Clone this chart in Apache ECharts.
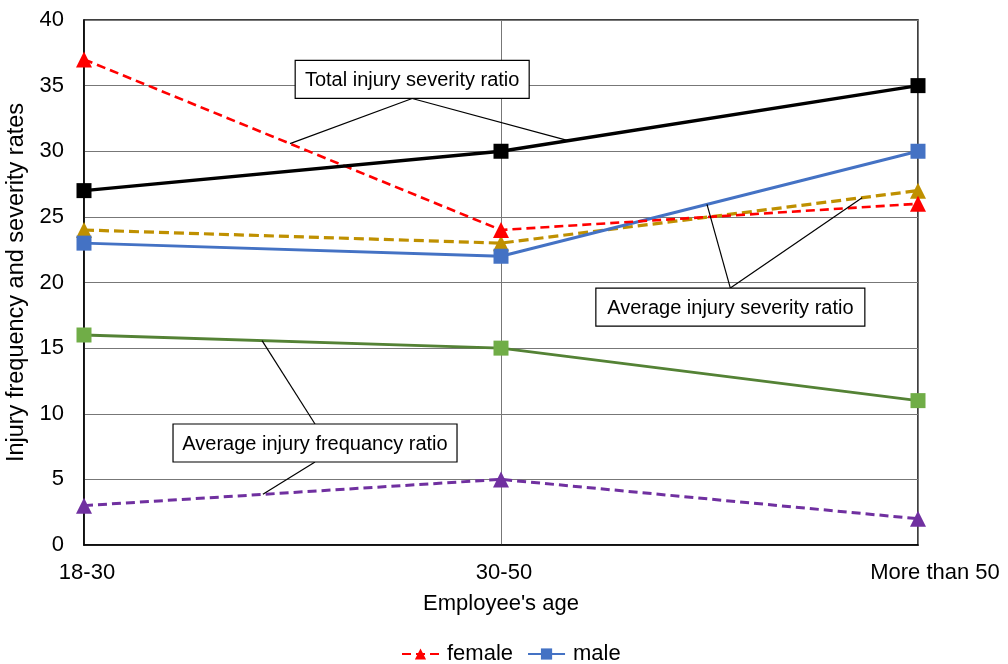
<!DOCTYPE html>
<html>
<head>
<meta charset="utf-8">
<script src="https://cdn.jsdelivr.net/npm/echarts@6/dist/echarts.min.js"></script>
<style>
  html, body { margin: 0; padding: 0; background: #fff; }
  #chart { width: 1008px; height: 664px; }
</style>
</head>
<body>
<div id="chart"></div>
<script>
// Age groups on the x axis
const ageGroups = ['18-30', '30-50', 'More than 50'];

// Severity ratios
const femaleSeverity = [37, 24, 26];
const maleSeverity = [23, 22, 30];
const totalSeverity = [27, 30, 35];
const avgSeverity = [24, 23, 27];

// Frequency ratios
const avgFrequencyA = [16, 15, 11];
const avgFrequencyB = [3, 5, 2];

const yTicks = { min: 0, max: 40, step: 5 };

const FONT = '"Liberation Sans", Arial, sans-serif';

const chart = echarts.init(document.getElementById('chart'));

function lineSeries(name, data, color, dash, symbol, markerColor, width) {
  return {
    name: name,
    type: 'line',
    data: data,
    symbol: symbol,
    symbolSize: symbol === 'triangle' ? 16 : 15,
    showSymbol: true,
    lineStyle: { color: color, width: width, type: dash || 'solid' },
    itemStyle: { color: markerColor || color, borderWidth: 0 },
    emphasis: { disabled: true },
    animation: false
  };
}

const option = {
  animation: false,
  grid: {
    left: 84, right: 90, top: 20, bottom: 119,
    containLabel: false, outerBoundsMode: 'none',
    show: true, borderColor: '#000', borderWidth: 1.5, backgroundColor: 'transparent'
  },
  legend: {
    data: ['female', 'male'],
    top: 638,
    left: 396,
    itemWidth: 37,
    itemHeight: 14,
    itemGap: 14,
    textStyle: { fontFamily: FONT, fontSize: 22, color: '#000', padding: [0, 0, 0, 3] }
  },
  xAxis: {
    type: 'category',
    data: ageGroups,
    boundaryGap: false,
    name: "Employee's age",
    nameLocation: 'middle',
    nameGap: 48,
    nameTextStyle: { fontFamily: FONT, fontSize: 22, color: '#000' },
    axisLine: { lineStyle: { color: '#000', width: 1.5 } },
    axisTick: { show: false },
    axisLabel: {
      fontFamily: FONT, fontSize: 22, color: '#000', margin: 17, interval: 0,
      formatter: function (v, i) {
        return i === ageGroups.length - 1 ? '{last|' + v + '}' : '{norm|' + v + '}';
      },
      rich: {
        norm: { fontFamily: FONT, fontSize: 22, color: '#000', padding: [0, 0, 0, 6] },
        last: { fontFamily: FONT, fontSize: 22, color: '#000', padding: [0, 0, 0, 34] }
      }
    },
    splitLine: { show: true, interval: 0, lineStyle: { color: '#777', width: 1 } }
  },
  yAxis: {
    type: 'value',
    min: yTicks.min,
    max: yTicks.max,
    interval: yTicks.step,
    name: 'Injury frequency and severity rates',
    nameLocation: 'middle',
    nameGap: 52,
    nameTextStyle: { fontFamily: FONT, fontSize: 23.5, color: '#000' },
    axisLine: { show: true, lineStyle: { color: '#000', width: 1.5 } },
    axisTick: { show: false },
    axisLabel: { fontFamily: FONT, fontSize: 22, color: '#000', margin: 20 },
    splitLine: { show: true, lineStyle: { color: '#777', width: 1 } }
  },
  series: [
    lineSeries('avgFrequencyB', avgFrequencyB, '#7030A0', [9, 5], 'triangle', null, 3),
    lineSeries('avgFrequencyA', avgFrequencyA, '#548235', null, 'rect', '#70AD47', 3),
    lineSeries('avgSeverity', avgSeverity, '#BF9000', [10, 5], 'triangle', null, 3.2),
    lineSeries('male', maleSeverity, '#4472C4', null, 'rect', null, 3),
    lineSeries('female', femaleSeverity, '#FF0000', [9, 5], 'triangle', null, 2.6),
    lineSeries('total', totalSeverity, '#000000', null, 'rect', null, 3.4)
  ]
};

chart.setOption(option);

// Callout labels: each box sits at a data position and points at spots
// along the line segments it describes.
function pointOnSegment(values, i, t) {
  return [i + t, values[i] + t * (values[i + 1] - values[i])];
}
function toPx(pt) {
  const a = chart.convertToPixel({ gridIndex: 0 }, [0, pt[1]]);
  const b = chart.convertToPixel({ gridIndex: 0 }, [1, pt[1]]);
  return [a[0] + (b[0] - a[0]) * pt[0], a[1]];
}

const callouts = [
  {
    text: 'Total injury severity ratio',
    center: [0.787, 35.47], w: 234, h: 38, anchor: 'bottom',
    targets: [pointOnSegment(femaleSeverity, 0, 0.494), pointOnSegment(totalSeverity, 1, 0.161)]
  },
  {
    text: 'Average injury severity ratio',
    center: [1.55, 18.13], w: 269, h: 38, anchor: 'top',
    targets: [pointOnSegment(maleSeverity, 1, 0.494), pointOnSegment(avgSeverity, 1, 0.866)]
  },
  {
    text: 'Average injury frequancy ratio',
    center: [0.554, 7.77], w: 284, h: 38, anchor: 'both',
    targets: [pointOnSegment(avgFrequencyA, 0, 0.427), pointOnSegment(avgFrequencyB, 0, 0.429)]
  }
];

const elements = [];
callouts.forEach(function (c) {
  const ctr = toPx(c.center);
  const x0 = ctr[0] - c.w / 2, y0 = ctr[1] - c.h / 2;
  c.targets.forEach(function (tp, k) {
    const p = toPx(tp);
    let from;
    if (c.anchor === 'bottom') from = [ctr[0], y0 + c.h];
    else if (c.anchor === 'top') from = [ctr[0], y0];
    else from = k === 0 ? [ctr[0], y0] : [ctr[0], y0 + c.h];
    elements.push({
      type: 'line', silent: true, z: 100,
      shape: { x1: from[0], y1: from[1], x2: p[0], y2: p[1] },
      style: { stroke: '#000', lineWidth: 1.2 }
    });
  });
  elements.push({
    type: 'rect', silent: true, z: 101,
    shape: { x: x0, y: y0, width: c.w, height: c.h },
    style: { fill: '#fff', stroke: '#000', lineWidth: 1.2 }
  });
  elements.push({
    type: 'text', silent: true, z: 102,
    x: ctr[0], y: ctr[1] + 1,
    style: { text: c.text, fill: '#000', font: '20px ' + FONT, align: 'center', verticalAlign: 'middle' }
  });
});

chart.setOption({ graphic: elements });
</script>
</body>
</html>
